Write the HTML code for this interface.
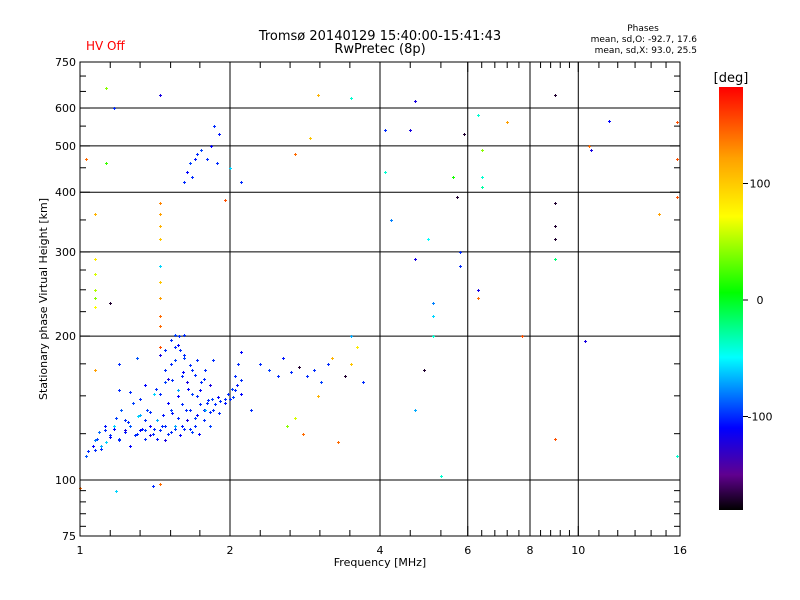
<!DOCTYPE html>
<html><head><meta charset="utf-8"><style>
body{margin:0;background:#fff;}
svg{display:block;font-family:"DejaVu Sans","Liberation Sans",sans-serif;}
</style></head><body>
<svg id="chart" width="800" height="600" viewBox="0 0 800 600" xmlns="http://www.w3.org/2000/svg">
<defs>
<linearGradient id="cbar" x1="0" y1="1" x2="0" y2="0">
<stop offset="0" stop-color="#000000"/>
<stop offset="0.083" stop-color="#60008f"/>
<stop offset="0.194" stop-color="#0000ff"/>
<stop offset="0.361" stop-color="#00ffff"/>
<stop offset="0.514" stop-color="#00ff00"/>
<stop offset="0.694" stop-color="#ffff00"/>
<stop offset="0.833" stop-color="#ffa000"/>
<stop offset="1" stop-color="#ff0000"/>
</linearGradient>
</defs>
<text x="380" y="40" font-size="13" text-anchor="middle">Tromsø 20140129 15:40:00-15:41:43</text>
<text x="380" y="53" font-size="13" text-anchor="middle">RwPretec (8p)</text>
<text x="86" y="50" font-size="12" fill="#ff0000">HV Off</text>
<text x="643" y="31" font-size="9" text-anchor="middle">Phases</text>
<text x="697" y="42" font-size="9" text-anchor="end">mean, sd,O: -92.7, 17.6</text>
<text x="697" y="53" font-size="9" text-anchor="end">mean, sd,X:  93.0, 25.5</text>
<g id="grid"></g>
<g id="points"></g>
<rect x="80" y="62" width="600" height="474" fill="none" stroke="#000" stroke-width="1"/>
<g id="axes"></g>
<text x="380" y="566" font-size="11" text-anchor="middle">Frequency [MHz]</text>
<text transform="translate(47,299) rotate(-90)" font-size="11" text-anchor="middle">Stationary phase Virtual Height [km]</text>
<rect x="719" y="87" width="24" height="423" fill="url(#cbar)"/>
<text x="731" y="82" font-size="13" text-anchor="middle">[deg]</text>
<g id="cbticks"></g>
</svg>
<script>
const NS="http://www.w3.org/2000/svg";
const xTicks=[1,2,4,6,8,10,16];
const xGrid=[2,4,6,8,10];
const xMinor=[1.15,1.32,1.52,1.74,2.3,2.64,3.03,3.48,4.6,5.3,6.4,6.8,7.2,7.6,8.4,8.8,9.2,9.6,11,12,13,14,15];
const yTicks=[750,600,500,400,300,200,100,75];
const yGrid=[600,500,400,300,200,100];
const yMinor=[80,85,90,95,125,150,175,225,250,275,350,450,550,650,700];
const cbTicks=[100,0,-100];
const freq=[1.03,1.04,1.06,1.08,1.09,1.1,1.12,1.13,1.15,1.17,1.18,1.2,1.21,1.23,1.25,1.26,1.28,1.3,1.31,1.33,1.35,1.36,1.38,1.4,1.42,1.43,
1.46,1.48,1.5,1.5,1.52,1.53,1.55,1.55,1.57,1.58,1.6,1.6,1.62,1.63,1.65,1.66,1.68,1.7,1.72,1.73,1.75,1.77,1.8,1.82,1.85,1.9,1.95,2.0,2.02,2.05,2.08,2.1,
2.3,2.4,2.5,2.55,2.65,2.75,2.85,2.95,3.05,3.15,2.6,2.7,3.0,3.2,3.5,3.4,
1.62,1.64,1.66,1.68,1.7,1.72,1.75,1.8,1.83,1.86,1.9,1.88,
1.45,1.45,1.45,1.45,1.45,1.45,1.45,1.45,1.45,1.45,1.45,
1.07,1.07,1.07,1.07,1.07,1.07,1.07,
1.13,1.17,1.45,1.03,1.13,1.15,2.1,2.0,1.95,2.2,2.7,2.9,3.0,3.5,3.5,3.6,3.3,2.8,4.1,4.1,4.2,3.7,4.6,4.7,4.7,5.0,5.1,5.1,5.1,4.9,4.7,5.6,5.7,5.9,5.8,5.8,6.3,6.4,6.4,6.4,6.3,6.3,7.2,7.7,5.3,9.0,9.0,9.0,9.0,9.0,9.0,10.5,10.6,11.5,10.3,14.5,15.8,15.8,15.8,15.8,1.18,1.0,1.4,1.2,1.3,
1.07,1.07,1.10,1.12,1.15,1.17,1.20,1.23,1.23,1.26,1.29,1.32,1.32,1.35,1.35,1.38,1.38,1.41,1.43,1.45,1.47,1.48,1.48,1.52,1.52,1.55,1.57,1.59,1.60,1.62,1.64,1.66,1.68,1.70,1.72,1.74,1.77,1.78,1.81,1.82,1.84,1.87,1.89,1.91,1.95,1.98,2.03,2.05,2.07,2.10,2.10,
1.48,1.50,1.53,1.55,1.57,1.59,1.61,1.62,1.64,1.66,1.68,1.70,1.72,1.74,1.77,1.78,1.82,1.85,1.45,1.41,1.32,1.35,1.26,1.20,1.45,1.48,1.52,1.55,1.57,1.62];
const height=[112,115,118,122,126,116,130,120,124,128,135,122,140,126,132,118,145,125,136,128,122,140,130,125,155,122,
130,160,145,125,175,138,190,128,150,200,165,130,180,140,155,128,170,135,150,125,160,140,145,130,140,138,145,148,155,165,175,185,
175,170,165,180,168,172,165,170,160,175,130,135,150,180,175,165,
420,440,460,430,470,480,490,470,500,550,530,460,
380,360,340,320,280,260,240,220,210,190,98,
290,270,250,240,230,170,360,
660,600,640,470,460,235,420,450,385,140,480,520,640,630,200,190,120,125,540,440,350,160,540,620,290,320,235,220,200,170,140,430,390,530,300,280,580,490,430,410,250,240,560,200,102,640,380,340,320,290,122,500,490,565,195,360,560,470,390,112,95,96,97,175,180,
121,115.5,118,127,123,130,121,127,133.5,130,124,127,137,133.5,127,124,139,128,133.5,127,137,130,121,126,140,130,135,124,144,128,133.5,140,126,130,137,144,133.5,140,147,139,148,144,149,146,148,151,149,154,158,162,151,
170,163,162,178,154,187,168,183,160,174,151,166,178,154,163,170,158,178,151,151,148,158,153,154,183,187,196,201,192,201];
const phase=[-90,-100,-110,-95,-85,-100,-105,-60,-100,-110,-95,-100,-90,-105,-100,-110,-95,-100,-60,-105,-100,-95,-110,-100,-100,-105,
-100,-95,-110,-100,-100,-105,-100,-95,-110,-100,-100,-105,-95,-100,-110,-100,-100,-95,-100,-110,-100,-105,-100,-95,-100,-100,-105,-100,-95,-100,-100,-110,
-100,-95,-100,-105,-100,-170,-100,-100,-95,-100,40,60,110,110,100,-170,
-100,-110,-95,-100,-105,-100,-95,-100,-110,-100,-105,-100,
130,120,110,100,-60,100,120,140,140,150,140,
80,60,50,40,70,120,110,
40,-100,-120,140,20,-170,-100,-60,150,-100,140,100,110,-40,-70,80,140,140,-100,-40,-80,-100,-120,-120,-120,-50,-80,-60,-40,-170,-70,10,-170,-170,-100,-100,-40,40,-40,-30,-120,140,120,150,-40,-170,-170,-170,-170,-20,150,140,-120,-110,-120,120,150,150,150,-40,-60,140,-100,-100,-90,
-80,-100,-70,-100,-110,-60,-100,-120,-100,-90,-100,-110,-70,-100,-95,-120,-100,-100,-70,-100,-105,-100,-120,-100,-95,-70,-100,-110,-100,-100,-120,-100,-95,-100,-110,-100,-100,-70,-100,-100,-95,-100,-110,-100,-100,-100,-95,-100,-105,-100,-110,
-100,-120,-100,-95,-70,-100,-110,-100,-120,-100,-95,-100,-100,-110,-100,-100,-120,-100,-100,-60,-100,-110,-100,-100,-120,-100,-100,-95,-110,-100];

const X0=80,X1=680,Y0=62,Y1=536;
const xs=f=>X0+(X1-X0)*Math.log(f)/Math.log(16);
const ys=h=>480-478*Math.log10(h/100);
const cs=p=>300-(p/100)*116.5;
const stops=[[-180,[0,0,0]],[-150,[96,0,143]],[-110,[0,0,255]],[-50,[0,255,255]],[5,[0,255,0]],[70,[255,255,0]],[120,[255,160,0]],[180,[255,0,0]]];
function color(p){
  for(let i=0;i<stops.length-1;i++){
    const a=stops[i],b=stops[i+1];
    if(p<=b[0]){const t=Math.max(0,(p-a[0])/(b[0]-a[0]));
      const c=a[1].map((v,k)=>Math.round(v+(b[1][k]-v)*t));return `rgb(${c})`;}
  }
  return 'rgb(255,0,0)';
}
function el(tag,attrs,parent){const e=document.createElementNS(NS,tag);for(const k in attrs)e.setAttribute(k,attrs[k]);parent.appendChild(e);return e;}
const grid=document.getElementById('grid'),axes=document.getElementById('axes'),pts=document.getElementById('points'),cbt=document.getElementById('cbticks');
xGrid.forEach(v=>{const l=el('line',{x1:xs(v),x2:xs(v),y1:Y0,y2:Y1,stroke:'#000'},grid);

});
yGrid.forEach(v=>{const l=el('line',{x1:X0,x2:X1,y1:ys(v),y2:ys(v),stroke:'#000'},grid);

});
xTicks.forEach(v=>{const t=el('text',{x:xs(v),y:554,'font-size':11,'text-anchor':'middle'},axes);t.textContent=v;


el('line',{x1:xs(v),x2:xs(v),y1:Y1,y2:Y1-10,stroke:'#000'},axes);el('line',{x1:xs(v),x2:xs(v),y1:Y0,y2:Y0+10,stroke:'#000'},axes);});
xMinor.forEach(v=>{el('line',{x1:xs(v),x2:xs(v),y1:Y1,y2:Y1-6,stroke:'#000'},axes);el('line',{x1:xs(v),x2:xs(v),y1:Y0,y2:Y0+6,stroke:'#000'},axes);});
yTicks.forEach(v=>{const y=Math.min(Math.max(ys(v),Y0),Y1);const t=el('text',{x:76,y:y+4,'font-size':11,'text-anchor':'end'},axes);t.textContent=v;


el('line',{x1:X0,x2:X0+10,y1:y,y2:y,stroke:'#000'},axes);el('line',{x1:X1,x2:X1-10,y1:y,y2:y,stroke:'#000'},axes);});
yMinor.forEach(v=>{const y=ys(v);el('line',{x1:X0,x2:X0+6,y1:y,y2:y,stroke:'#000'},axes);el('line',{x1:X1,x2:X1-6,y1:y,y2:y,stroke:'#000'},axes);});
cbTicks.forEach(v=>{const y=cs(v);el('line',{x1:743,x2:748,y1:y,y2:y,stroke:'#000'},cbt);
const t=el('text',{x:760,y:y+4,'font-size':11,'text-anchor':'middle'},cbt);t.textContent=v;

});
for(let i=0;i<freq.length;i++){
  const x=Math.round(xs(freq[i])),y=Math.round(ys(height[i]));
  const c=color(phase[i]);
  const p=el('path',{d:`M${x-1} ${y+0.5}h3M${x+0.5} ${y-1}v3`,stroke:c,'stroke-width':1,fill:'none'},pts);
  
  
}
</script>
</body></html>
